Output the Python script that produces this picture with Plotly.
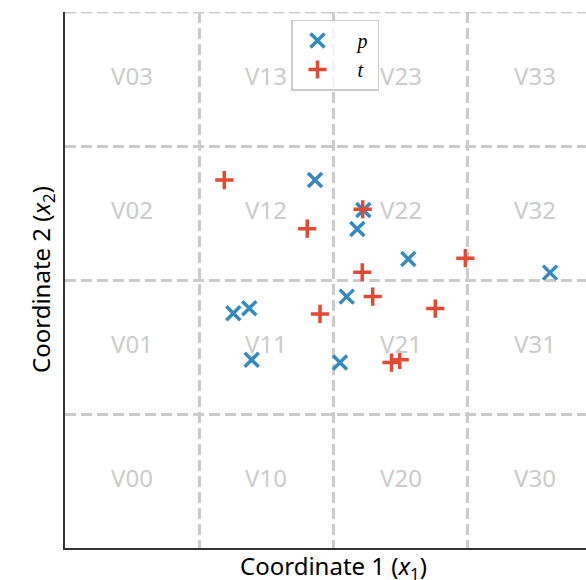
import plotly.graph_objects as go

# Data
p_x = [1.863, 2.223, 2.178, 2.558, 3.614, 2.099, 1.373, 1.254, 1.391, 2.049]
p_y = [2.746, 2.523, 2.381, 2.157, 2.055, 1.876, 1.790, 1.752, 1.404, 1.384]
t_x = [1.187, 1.805, 2.218, 2.215, 2.983, 2.293, 2.759, 1.900, 2.433, 2.494]
t_y = [2.746, 2.383, 2.528, 2.058, 2.163, 1.876, 1.787, 1.747, 1.384, 1.404]

grid_ticks = [0, 1, 2, 3, 4]
cell_cols = [0, 1, 2, 3]
cell_rows = [0, 1, 2, 3]

BLUE = "#348ABD"
RED = "#E24A33"
GRID = "#cccccc"
FONT = "Noto Sans"

fig = go.Figure()
fig.add_trace(go.Scatter(
    x=p_x, y=p_y, mode="markers", name="&nbsp;&nbsp;&nbsp;<i>p</i>&nbsp;",
    marker=dict(symbol="x-thin", size=14, color=BLUE,
                line=dict(width=3.5, color=BLUE)),
))
fig.add_trace(go.Scatter(
    x=t_x, y=t_y, mode="markers", name="&nbsp;&nbsp;&nbsp;<i>t</i>&nbsp;",
    marker=dict(symbol="cross-thin", size=13, color=RED,
                line=dict(width=3.5, color=RED)),
))

annotations = []
for i in cell_cols:
    for j in cell_rows:
        annotations.append(dict(
            x=i + 0.5, y=j + 0.5, xref="x", yref="y", yshift=4,
            text=f"V{i}{j}", showarrow=False,
            font=dict(family=FONT, size=24, color=GRID),
        ))
annotations.append(dict(
    x=2, y=0, xref="x", yref="paper", yshift=-19,
    xanchor="center", yanchor="middle",
    text="Coordinate 1 (<i>x</i><sub>1</sub>)", showarrow=False,
    font=dict(family=FONT, size=24, color="black"),
))
annotations.append(dict(
    x=0, y=0.5, xref="paper", yref="paper", xshift=-23, textangle=-90,
    xanchor="center", yanchor="middle",
    text="Coordinate 2 (<i>x</i><sub>2</sub>)", showarrow=False,
    font=dict(family=FONT, size=24, color="black"),
))

axis_common = dict(
    tickvals=grid_ticks, showticklabels=False, ticks="",
    showgrid=True, gridcolor=GRID, gridwidth=3, griddash="11px,5px",
    zeroline=False, showline=True, linecolor="#333333", linewidth=1.5,
    mirror=False, fixedrange=True,
)

fig.update_layout(
    width=586, height=580,
    margin=dict(l=65, r=0, t=12, b=32),
    plot_bgcolor="white", paper_bgcolor="white",
    xaxis=dict(range=[0, 3.882], **axis_common),
    yaxis=dict(range=[0, 4], **axis_common),
    annotations=annotations,
    shapes=[dict(type="line", xref="paper", yref="y", x0=0, x1=1,
                 y0=grid_ticks[-1], y1=grid_ticks[-1], layer="below",
                 line=dict(color=GRID, width=3, dash="11px,5px"))],
    legend=dict(
        x=0.4338, y=0.986, xanchor="left", yanchor="top",
        bgcolor="rgba(255,255,255,0.8)", bordercolor=GRID, borderwidth=1.5,
        font=dict(family="Liberation Serif", size=20, color="black"),
        itemwidth=40,
    ),
    showlegend=True,
)

fig.write_html("out.html")
